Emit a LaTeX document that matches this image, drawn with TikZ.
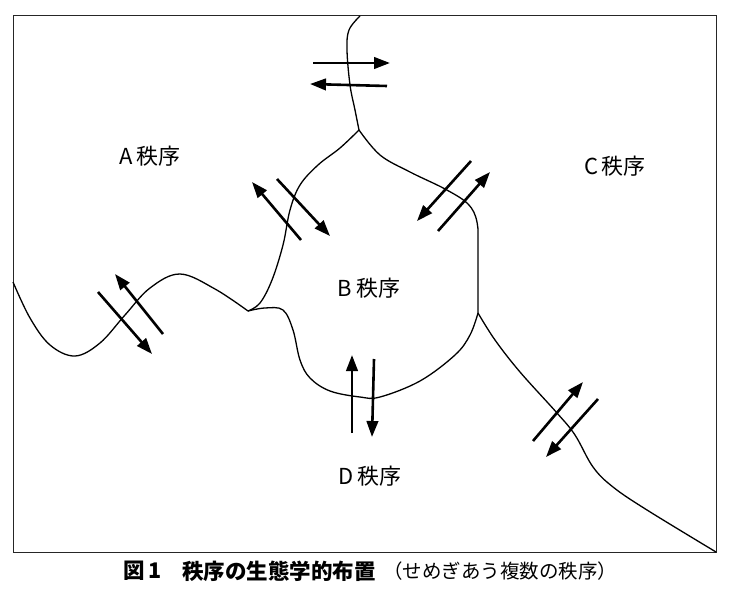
\documentclass[tikz,border=0pt]{standalone}
\usepackage{fontspec}
\newfontfamily\jp{Noto Sans CJK JP}
\usetikzlibrary{arrows.meta}
\tikzset{
  frame/.style={line width=1pt, draw=black!85},
  border/.style={line width=1.3pt},
  flow/.style={line width=2.6pt, -{Triangle[length=16pt,width=11.5pt]}},
  lbl/.style={font=\jp\fontsize{22}{26}\selectfont, inner sep=0pt},
  captxt/.style={font=\jp\fontsize{19.5}{24}\selectfont, inner sep=0pt, anchor=west},
  capbold/.style={captxt, font=\jp\bfseries\fontsize{21.5}{25}\selectfont},
}
\begin{document}
\begin{tikzpicture}[x=1pt,y=-1pt]
\useasboundingbox (0,0) rectangle (730,594);
\fill[white] (0,0) rectangle (730,594);
\draw[frame] (13,16) rectangle (716,552);

% junctions
\coordinate (jt) at (359,130);
\coordinate (jl) at (248,311);
\coordinate (jr) at (478,313);

% boundaries
\draw[border] plot[smooth, tension=0.6] coordinates {(360,16) (349,30) (347,50) (350,85) (355,110) (jt)};
\draw[border] plot[smooth, tension=0.6] coordinates {(jt) (340,148) (318,165) (300,185) (290,210) (283,245) (272,280) (260,303) (jl)};
\draw[border] plot[smooth, tension=0.6] coordinates {(jt) (380,155) (410,172) (445,189) (468,204) (477,222) (478,250) (jr)};
\draw[border] plot[smooth, tension=0.6] coordinates {(13,282) (30,318) (50,345) (75,356) (100,343) (125,315) (150,288) (180,274) (215,289) (jl)};
\draw[border] plot[smooth, tension=0.6] coordinates {(jl) (265,308) (283,310) (293,330) (300,360) (310,378) (330,391) (360,397) (380,397) (420,381) (455,355) (470,335) (jr)};
\draw[border] plot[smooth, tension=0.6] coordinates {(jr) (495,340) (520,372) (557,413) (575,435) (593,467) (613,487) (647,510) (716,552)};

% arrows: top (A-C)
\coordinate (t1s) at (313,63); \coordinate (t1e) at (390,63);
\coordinate (t2s) at (387,86); \coordinate (t2e) at (310,84);
\draw[flow] (t1s) -- (t1e);
\draw[flow] (t2s) -- (t2e);
% A-B
\coordinate (ab1s) at (301,240); \coordinate (ab1e) at (252,182);
\coordinate (ab2s) at (277,179); \coordinate (ab2e) at (330,236);
\draw[flow] (ab1s) -- (ab1e);
\draw[flow] (ab2s) -- (ab2e);
% B-C
\coordinate (bc1s) at (471,161); \coordinate (bc1e) at (417,221);
\coordinate (bc2s) at (438,231); \coordinate (bc2e) at (490,172);
\draw[flow] (bc1s) -- (bc1e);
\draw[flow] (bc2s) -- (bc2e);
% A-D
\coordinate (ad1s) at (163,334); \coordinate (ad1e) at (115,274);
\coordinate (ad2s) at (98,292); \coordinate (ad2e) at (152,354);
\draw[flow] (ad1s) -- (ad1e);
\draw[flow] (ad2s) -- (ad2e);
% B-D
\coordinate (bd1s) at (352,433); \coordinate (bd1e) at (352,355);
\coordinate (bd2s) at (374,359); \coordinate (bd2e) at (372,437);
\draw[flow] (bd1s) -- (bd1e);
\draw[flow] (bd2s) -- (bd2e);
% C-D
\coordinate (cd1s) at (533,441); \coordinate (cd1e) at (583,382);
\coordinate (cd2s) at (598,399); \coordinate (cd2e) at (546,457);
\draw[flow] (cd1s) -- (cd1e);
\draw[flow] (cd2s) -- (cd2e);

% labels
\node[lbl] (A) at (150,156) {A\,秩序};
\node[lbl] (B) at (369,288) {B\,秩序};
\node[lbl] (C) at (615,166) {C\,秩序};
\node[lbl] (D) at (370,476) {D\,秩序};

% caption
\node[capbold] (c1) at (123,571) {図\,1};
\node[capbold] (c2) at (182,571) {秩序の生態学的布置};
\node[captxt] (c3) at (383,571) {（せめぎあう複数の秩序）};
\end{tikzpicture}
\end{document}
